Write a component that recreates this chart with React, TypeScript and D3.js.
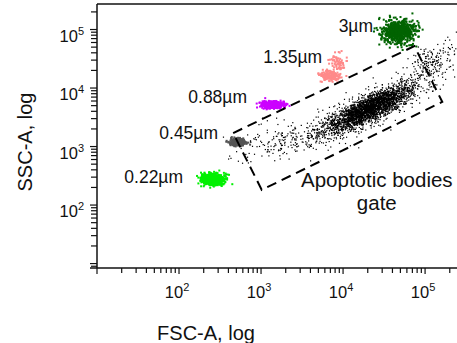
import React, { useMemo } from "react";
import * as d3 from "d3";

const W = 457;
const H = 343;

// Axes (linear values, log scale)
const FSC_DOMAIN: [number, number] = [10, 245000];
const SSC_DOMAIN: [number, number] = [8.4, 273000];
const LABELED_DECADES = [2, 3, 4, 5];
const X_TITLE = "FSC-A, log";
const Y_TITLE = "SSC-A, log";

// Populations (log10 centres, spreads in decades, event counts)
const POP_NAMES = ["AB low tail", "AB core", "AB dense", "AB high tail", "3µm", "1.35µm", "1.35µm diffuse", "0.88µm", "0.45µm", "0.22µm"];
const POP_COLORS = ["#000000", "#000000", "#000000", "#000000", "#006400", "#ff8a8a", "#ff8a8a", "#cc00ff", "#555555", "#00f000"];
const POP_FSC = [3.25, 4.3, 4.33, 5.12, 4.68, 3.84, 3.94, 3.15, 2.72, 2.41];
const POP_SSC = [3.12, 3.63, 3.66, 4.48, 4.96, 4.205, 4.41, 3.71, 3.08, 2.44];
const POP_SLOPE = [0.45, 0.73, 0.73, 1.2, 0, 0, 0, 0, 0, 0];
const POP_SD_ALONG = [0.32, 0.42, 0.3, 0.22, 0.1, 0.06, 0.06, 0.07, 0.05, 0.075];
const POP_SD_PERP = [0.15, 0.12, 0.085, 0.12, 0.1, 0.04, 0.08, 0.03, 0.03, 0.05];
const POP_COUNT = [160, 1300, 1600, 170, 700, 180, 70, 450, 250, 500];

// Bead annotations: text and the (FSC, SSC) at which each label ends
const BEAD_LABELS = ["3µm", "1.35µm", "0.88µm", "0.45µm", "0.22µm"];
const BEAD_LABEL_FSC = [23200, 5550, 675, 299, 112];
const BEAD_LABEL_SSC = [90600, 26700, 5550, 1343, 238];

// Apoptotic bodies gate (FSC, SSC vertices)
const GATE_FSC = [457, 74000, 162000, 1020];
const GATE_SSC = [1700, 52000, 5800, 182];
const GATE_LABEL = ["Apoptotic bodies", "gate"];
const GATE_LABEL_FSC = 25800;
const GATE_LABEL_SSC = 203;

const FONT = "'Liberation Sans', Arial, sans-serif";

export default function App() {
  const x = d3.scaleLog().domain(FSC_DOMAIN).range([97, 457]);
  const y = d3.scaleLog().domain(SSC_DOMAIN).range([268, 4]);

  const points = useMemo(() => {
    const rng = d3.randomLcg(0.4242);
    const norm = d3.randomNormal.source(rng)(0, 1);
    const out: { f: number; s: number; c: string; black: boolean }[] = [];
    POP_NAMES.forEach((_, i) => {
      const slope = POP_SLOPE[i];
      const len = Math.sqrt(1 + slope * slope);
      const ax = 1 / len, ay = slope / len;
      const px = -slope / len, py = 1 / len;
      for (let k = 0; k < POP_COUNT[i]; k++) {
        const a = norm() * POP_SD_ALONG[i];
        const b = norm() * POP_SD_PERP[i];
        const lf = POP_FSC[i] + a * ax + b * px;
        const ls = POP_SSC[i] + a * ay + b * py;
        out.push({ f: Math.pow(10, lf), s: Math.pow(10, ls), c: POP_COLORS[i], black: POP_COLORS[i] === "#000000" });
      }
    });
    return out;
  }, []);

  const ticksFor = (domain: [number, number]) => {
    const t: { v: number; major: boolean }[] = [];
    for (let k = 0; k <= 6; k++) {
      for (let m = 1; m <= 9; m++) {
        const v = m * Math.pow(10, k);
        if (v >= domain[0] * 0.999 && v <= domain[1]) t.push({ v, major: m === 1 });
      }
    }
    return t;
  };
  const xTicks = ticksFor(FSC_DOMAIN);
  const yTicks = ticksFor(SSC_DOMAIN);

  const [x0, x1] = x.range();
  const [y0, y1] = y.range();

  const gatePath =
    d3.line()(GATE_FSC.map((f, i) => [x(f), y(GATE_SSC[i])] as [number, number])) + "Z";

  return (
    <div style={{ position: "fixed", left: 0, top: 0, width: W, height: H, background: "#fff" }}>
      <svg width={W} height={H} style={{ display: "block" }} fontFamily={FONT}>
        <defs>
          <clipPath id="plot">
            <rect x={x0} y={y1} width={x1 - x0} height={y0 - y1} />
          </clipPath>
        </defs>
        <g clipPath="url(#plot)">
          {points.map((p, i) =>
            p.black ? (
              <rect key={i} x={x(p.f) - 0.6} y={y(p.s) - 0.6} width={1.2} height={1.2} fill="#000" />
            ) : (
              <rect key={i} x={x(p.f) - 1} y={y(p.s) - 1} width={2} height={2} fill={p.c} />
            )
          )}
        </g>
        <path d={gatePath} fill="none" stroke="#000" strokeWidth={2} strokeDasharray="10 6" />

        {/* frame */}
        <line x1={x0} x2={x1} y1={y1} y2={y1} stroke="#111" strokeWidth={1.5} />
        <line x1={x0} x2={x0} y1={y1} y2={y0} stroke="#111" strokeWidth={1.5} />
        <line x1={x0 - 7} x2={x1} y1={y0} y2={y0} stroke="#111" strokeWidth={1.5} />

        {xTicks.map((t, i) => (
          <line key={"xt" + i} x1={x(t.v)} x2={x(t.v)} y1={y0} y2={y0 + (t.major ? 6 : 5)} stroke="#111" strokeWidth={1.2} />
        ))}
        {yTicks.map((t, i) => (
          <line key={"yt" + i} x1={x0 - (t.major ? 7 : 6)} x2={x0} y1={y(t.v)} y2={y(t.v)} stroke="#111" strokeWidth={1.2} />
        ))}

        {LABELED_DECADES.map((k) => (
          <text key={"xl" + k} x={x(Math.pow(10, k)) - 2} y={298} textAnchor="middle" fontSize={16.5} fill="#111">
            10<tspan dy={-7} fontSize={11}>{k}</tspan>
          </text>
        ))}
        {LABELED_DECADES.map((k) => (
          <text key={"yl" + k} x={84} y={y(Math.pow(10, k)) + 12} textAnchor="end" fontSize={16.5} fill="#111">
            10<tspan dy={-7} fontSize={11}>{k}</tspan>
          </text>
        ))}

        <text x={206} y={340} textAnchor="middle" fontSize={20} fill="#111">{X_TITLE}</text>
        <text transform={`translate(32,142) rotate(-90)`} textAnchor="middle" fontSize={20} fill="#111">{Y_TITLE}</text>

        {BEAD_LABELS.map((l, i) => (
          <text key={l} x={x(BEAD_LABEL_FSC[i])} y={y(BEAD_LABEL_SSC[i])} textAnchor="end" fontSize={17.5} fill="#111">{l}</text>
        ))}

        <text x={x(GATE_LABEL_FSC)} y={y(GATE_LABEL_SSC)} textAnchor="middle" fontSize={20.5} fill="#111">
          {GATE_LABEL.map((l, i) => (
            <tspan key={l} x={x(GATE_LABEL_FSC)} dy={i === 0 ? 0 : 23}>{l}</tspan>
          ))}
        </text>
      </svg>
    </div>
  );
}
